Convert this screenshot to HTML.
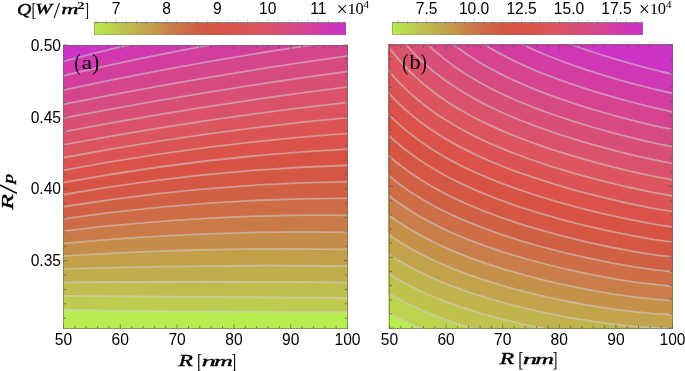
<!DOCTYPE html>
<html><head><meta charset="utf-8"><style>
html,body{margin:0;padding:0;background:#fff;width:685px;height:371px;overflow:hidden}
svg{position:absolute;left:0;top:0;display:block;will-change:transform}
</style></head><body>
<svg width="685" height="371" viewBox="0 0 685 371">
<defs><linearGradient id="cm" x1="0" y1="0" x2="1" y2="0"><stop offset="0" stop-color="#b7ed4e"/><stop offset="0.1" stop-color="#bec84e"/><stop offset="0.2" stop-color="#c1a84b"/><stop offset="0.25" stop-color="#c4964a"/><stop offset="0.3" stop-color="#c88048"/><stop offset="0.35" stop-color="#cc7046"/><stop offset="0.4" stop-color="#d06144"/><stop offset="0.45" stop-color="#d55643"/><stop offset="0.5" stop-color="#d85244"/><stop offset="0.55" stop-color="#db524a"/><stop offset="0.6" stop-color="#dc5354"/><stop offset="0.65" stop-color="#dc545f"/><stop offset="0.7" stop-color="#da506e"/><stop offset="0.75" stop-color="#d84d7a"/><stop offset="0.8" stop-color="#d64886"/><stop offset="0.85" stop-color="#d44196"/><stop offset="0.9" stop-color="#d23aaa"/><stop offset="0.95" stop-color="#ce34bc"/><stop offset="1" stop-color="#cc33c6"/></linearGradient></defs>
<clipPath id="clipa"><rect x="63" y="45" width="285" height="284"/></clipPath>
<g clip-path="url(#clipa)">
<rect x="63" y="45" width="285" height="284" fill="#b7ed4e"/>
<path fill="#bdcc4e" d="M62 309.8Q205.5 312 349 312.2L349 40L62 40Z"/>
<path fill="#bfbd4d" d="M62 295.9Q205.5 297.5 349 297.9L349 40L62 40Z"/>
<path fill="#c0ae4c" d="M62 282.3Q205.5 281.2 349 282.4L349 40L62 40Z"/>
<path fill="#c39f4a" d="M62 269Q205.5 264.1 349 266.1L349 40L62 40Z"/>
<path fill="#c68c49" d="M62 256.1Q205.5 246.8 349 249.4L349 40L62 40Z"/>
<path fill="#c97a47" d="M62 243.5Q205.5 229.8 349 232.3L349 40L62 40Z"/>
<path fill="#cd6c45" d="M62 231.2Q205.5 213.5 349 215.3L349 40L62 40Z"/>
<path fill="#d15f44" d="M62 219Q205.5 198 349 198.4L349 40L62 40Z"/>
<path fill="#d55643" d="M62 206.9Q205.5 183.4 349 181.6L349 40L62 40Z"/>
<path fill="#d85244" d="M62 194.9Q205.5 169.5 349 165.2L349 40L62 40Z"/>
<path fill="#db524a" d="M62 182.8Q205.5 156.2 349 149.1L349 40L62 40Z"/>
<path fill="#dc5353" d="M62 170.5Q205.5 143.4 349 133.3L349 40L62 40Z"/>
<path fill="#dc545d" d="M62 157.9Q205.5 130.7 349 117.6L349 40L62 40Z"/>
<path fill="#db5169" d="M62 145.1Q205.5 117.9 349 102.2L349 40L62 40Z"/>
<path fill="#d94e75" d="M62 132Q205.5 104.6 349 86.8L349 40L62 40Z"/>
<path fill="#d74a80" d="M62 118.4Q205.5 90.6 349 71.3L349 40L62 40Z"/>
<path fill="#d5458d" d="M62 104.6Q205.5 75.6 349 55.7L349 40L62 40Z"/>
<path fill="#d33e9d" d="M62 90.4Q205.5 59.5 349 39.7L349 40L62 40Z"/>
<path fill="#d138af" d="M62 76Q205.5 42 349 23.3L349 40L62 40Z"/>
<path fill="#cc33c6" d="M62 61.6Q205.5 23.2 349 6.4L349 40L62 40Z"/>
<path fill="none" stroke="#d0d0d0" stroke-opacity="0.56" stroke-width="1.8" d="M62 61.6Q205.5 23.2 349 6.4M62 76Q205.5 42 349 23.3M62 90.4Q205.5 59.5 349 39.7M62 104.6Q205.5 75.6 349 55.7M62 118.4Q205.5 90.6 349 71.3M62 132Q205.5 104.6 349 86.8M62 145.1Q205.5 117.9 349 102.2M62 157.9Q205.5 130.7 349 117.6M62 170.5Q205.5 143.4 349 133.3M62 182.8Q205.5 156.2 349 149.1M62 194.9Q205.5 169.5 349 165.2M62 206.9Q205.5 183.4 349 181.6M62 219Q205.5 198 349 198.4M62 231.2Q205.5 213.5 349 215.3M62 243.5Q205.5 229.8 349 232.3M62 256.1Q205.5 246.8 349 249.4M62 269Q205.5 264.1 349 266.1M62 282.3Q205.5 281.2 349 282.4M62 295.9Q205.5 297.5 349 297.9M62 309.8Q205.5 312 349 312.2"/>
</g>
<clipPath id="clipb"><rect x="388.4" y="44.4" width="284.6" height="284.6"/></clipPath>
<g clip-path="url(#clipb)">
<rect x="385.4" y="41.4" width="290.6" height="290.6" fill="#b7ed4e"/>
<path fill="#bcd34e" d="M429.4 331.9 L417.4 327.1 L406.4 322.2 L395.6 316.9 L385.4 311.3 L385.4 41.4 L676 41.4 L676 332Z"/>
<path fill="#bfc24d" d="M485.6 331.9 L470.9 327.8 L456.4 323.3 L442.9 318.6 L430.4 313.8 L418.4 308.7 L406.9 303.3 L395.9 297.5 L385.4 291.5 L385.4 41.4 L676 41.4 L676 332Z"/>
<path fill="#c0b34c" d="M562 331.9 L548.2 329.4 L534.4 326.7 L520.9 323.7 L507.9 320.6 L495.4 317.4 L483.4 314.1 L471.9 310.6 L460.4 306.9 L449.9 303.1 L439.4 299.1 L429.4 295 L419.9 290.7 L410.9 286.3 L401.9 281.6 L393.4 276.7 L385.4 271.7 L385.4 41.4 L676 41.4 L676 332Z"/>
<path fill="#c2a34b" d="M675.9 328.8 L656.9 328.1 L636.9 326.6 L616.4 324.5 L594.9 321.6 L572.9 318.1 L550.9 313.9 L529.4 309.2 L508.4 304 L489.4 298.7 L471.9 293.2 L454.9 287.2 L439.4 281 L424.9 274.5 L410.9 267.5 L397.9 260.1 L385.4 252.1 L385.4 41.4 L676 41.4Z"/>
<path fill="#c5914a" d="M675.9 314.9 L656.4 313.8 L635.9 311.9 L614.9 309.3 L593.4 306.1 L570.9 302 L548.9 297.4 L527.4 292.3 L506.4 286.7 L487.9 281.1 L470.4 275.3 L453.9 269.1 L438.4 262.5 L423.9 255.6 L410.4 248.4 L397.4 240.5 L385.4 232.4 L385.4 41.4 L676 41.4Z"/>
<path fill="#c97d48" d="M675.9 300.8 L655.9 299.3 L635.4 297.1 L613.9 294.1 L591.9 290.3 L569.4 285.9 L546.9 280.8 L524.9 275.2 L504.4 269.3 L486 263.4 L468.9 257.3 L452.4 250.7 L437.4 244 L423.4 236.9 L409.9 229.3 L397.4 221.3 L385.4 212.8 L385.4 41.4 L676 41.4Z"/>
<path fill="#cd6e46" d="M675.9 286.6 L655.9 284.7 L634.9 282.1 L612.9 278.6 L590.4 274.4 L567.4 269.5 L544.9 264 L522.9 258 L502.4 251.8 L484.4 245.7 L467.4 239.3 L451.4 232.5 L436.4 225.4 L422.4 217.9 L409.4 210.1 L396.9 201.7 L385.4 193 L385.4 41.4 L676 41.4Z"/>
<path fill="#d06044" d="M675.9 272.1 L655.4 269.9 L633.9 266.8 L611.4 262.9 L588.4 258.2 L565.2 252.9 L542.4 247 L520.9 240.8 L500.4 234.2 L482.4 227.7 L465.9 221.1 L449.9 214 L435.4 206.7 L421.9 199.1 L408.9 190.9 L396.9 182.3 L385.4 173.1 L385.4 41.4 L676 41.4Z"/>
<path fill="#d55643" d="M675.9 257.5 L654.9 254.8 L632.9 251.4 L609.9 247 L586.4 241.9 L562.9 236.1 L540.1 229.9 L518.4 223.3 L498.4 216.5 L480.9 209.9 L464.4 202.9 L448.9 195.6 L434.4 187.9 L420.9 179.8 L408.4 171.4 L396.4 162.3 L385.4 152.9 L385.4 41.4 L676 41.4Z"/>
<path fill="#d85244" d="M675.9 242.6 L654.4 239.6 L631.9 235.7 L608.4 230.9 L584.4 225.4 L560.9 219.3 L537.9 212.7 L516.4 205.8 L496.4 198.6 L478.9 191.6 L462.8 184.4 L447.4 176.7 L433.4 168.8 L420.4 160.6 L407.9 151.7 L396.4 142.4 L385.4 132.4 L385.4 41.4 L676 41.4Z"/>
<path fill="#db524a" d="M675.9 227.5 L653.9 224.1 L630.4 219.7 L605.9 214.4 L581.4 208.4 L557.4 201.8 L534.9 195 L513.9 187.9 L494 180.4 L476.9 173.2 L460.9 165.6 L446.4 157.9 L432.4 149.5 L419.4 140.7 L407.4 131.6 L395.9 121.6 L385.4 111.3 L385.4 41.4 L676 41.4Z"/>
<path fill="#dc5353" d="M675.9 212.1 L652.9 208.3 L628.9 203.5 L603.9 197.7 L578.9 191.3 L554.9 184.4 L532.4 177.2 L511.4 169.8 L491.9 162 L474.9 154.4 L459.4 146.6 L444.8 138.4 L430.9 129.5 L418.4 120.4 L412.4 115.6 L406.4 110.5 L400.9 105.5 L395.4 100.2 L385.4 89.5 L385.4 41.4 L676 41.4Z"/>
<path fill="#dc545d" d="M675.9 196.5 L652.4 192.3 L627.4 187 L601.4 180.7 L575.9 173.8 L551.9 166.6 L529.4 159 L508.9 151.4 L489.9 143.4 L473.4 135.6 L457.9 127.3 L443.4 118.5 L436.4 113.9 L429.9 109.3 L423.5 104.4 L417.4 99.5 L411.5 94.4 L405.9 89.2 L400.4 83.8 L395.3 78.4 L390.4 72.8 L385.4 66.7 L385.4 41.4 L676 41.4Z"/>
<path fill="#da516b" d="M675.9 180.5 L651.4 175.9 L625.4 170.1 L598.9 163.4 L572.6 155.9 L548.4 148.3 L526.4 140.5 L505.9 132.4 L487.4 124.1 L470.9 115.8 L462.9 111.3 L455.4 106.9 L448.4 102.4 L441.4 97.7 L434.9 93 L428.4 88 L422.2 82.9 L416.1 77.4 L410.4 72 L404.9 66.4 L399.9 60.9 L394.8 54.9 L389.9 48.7 L385.4 42.5 L385.4 41.4 L676 41.4Z"/>
<path fill="#d84e77" d="M675.9 164.2 L653.4 159.7 L629.4 154.3 L605.4 148.1 L581.4 141.3 L559.2 134.4 L538.4 127.2 L519.4 120 L501.9 112.5 L485.9 104.9 L471.4 97.1 L457.9 89 L445.4 80.5 L433.9 71.7 L422.9 62.1 L417.5 56.9 L412.6 51.9 L403.3 41.4 L676 41.4Z"/>
<path fill="#d74983" d="M675.9 147.5 L655.4 143.3 L634.4 138.4 L612.9 132.9 L591.9 127 L571.9 120.8 L552.9 114.5 L535.4 108.1 L518.9 101.5 L504.1 94.9 L490.4 88.2 L477.4 81.1 L465.5 73.9 L454.3 66.4 L443.7 58.4 L433.9 50.1 L424.7 41.4 L676 41.4Z"/>
<path fill="#d54391" d="M675.9 130.3 L658.4 126.6 L640.4 122.4 L621.9 117.6 L603.4 112.5 L585.9 107.3 L569.2 101.9 L553.4 96.4 L538.4 90.8 L524.9 85.2 L512.4 79.7 L500.4 73.9 L488.9 67.8 L477.9 61.4 L467.9 55 L458.4 48.3 L449.6 41.4 L676 41.4Z"/>
<path fill="#d33da2" d="M675.9 112.6 L661.4 109.4 L646.4 105.9 L631.4 102 L616.2 97.9 L601.4 93.6 L586.9 89.2 L573.4 84.7 L560.4 80.2 L548.4 75.7 L536.9 71.1 L526 66.4 L515.9 61.7 L506.2 56.9 L496.8 51.9 L487.9 46.7 L479.4 41.4 L676 41.4Z"/>
<path fill="#d037b4" d="M675.9 94.2 L653.4 89 L630.4 83.1 L607.9 76.6 L586.4 69.9 L566.4 62.9 L548.4 56 L531.8 48.9 L516.2 41.4 L676 41.4Z"/>
<path fill="#cc33c6" d="M675.9 74.9 L660.9 71.5 L645.9 67.7 L630.9 63.6 L616.2 59.4 L601.9 55 L588.4 50.6 L575.4 46 L563.2 41.4 L676 41.4Z"/>
<path fill="none" stroke="#d0d0d0" stroke-opacity="0.56" stroke-width="1.8" stroke-linejoin="round" stroke-linecap="round" d="M429.4 331.9 L417.4 327.1 L406.4 322.2 L395.6 316.9 L385.4 311.3M485.6 331.9 L470.9 327.8 L456.4 323.3 L442.9 318.6 L430.4 313.8 L418.4 308.7 L406.9 303.3 L395.9 297.5 L385.4 291.5M562 331.9 L548.2 329.4 L534.4 326.7 L520.9 323.7 L507.9 320.6 L495.4 317.4 L483.4 314.1 L471.9 310.6 L460.4 306.9 L449.9 303.1 L439.4 299.1 L429.4 295 L419.9 290.7 L410.9 286.3 L401.9 281.6 L393.4 276.7 L385.4 271.7M675.9 328.8 L656.9 328.1 L636.9 326.6 L616.4 324.5 L594.9 321.6 L572.9 318.1 L550.9 313.9 L529.4 309.2 L508.4 304 L489.4 298.7 L471.9 293.2 L454.9 287.2 L439.4 281 L424.9 274.5 L410.9 267.5 L397.9 260.1 L385.4 252.1M675.9 314.9 L656.4 313.8 L635.9 311.9 L614.9 309.3 L593.4 306.1 L570.9 302 L548.9 297.4 L527.4 292.3 L506.4 286.7 L487.9 281.1 L470.4 275.3 L453.9 269.1 L438.4 262.5 L423.9 255.6 L410.4 248.4 L397.4 240.5 L385.4 232.4M675.9 300.8 L655.9 299.3 L635.4 297.1 L613.9 294.1 L591.9 290.3 L569.4 285.9 L546.9 280.8 L524.9 275.2 L504.4 269.3 L486 263.4 L468.9 257.3 L452.4 250.7 L437.4 244 L423.4 236.9 L409.9 229.3 L397.4 221.3 L385.4 212.8M675.9 286.6 L655.9 284.7 L634.9 282.1 L612.9 278.6 L590.4 274.4 L567.4 269.5 L544.9 264 L522.9 258 L502.4 251.8 L484.4 245.7 L467.4 239.3 L451.4 232.5 L436.4 225.4 L422.4 217.9 L409.4 210.1 L396.9 201.7 L385.4 193M675.9 272.1 L655.4 269.9 L633.9 266.8 L611.4 262.9 L588.4 258.2 L565.2 252.9 L542.4 247 L520.9 240.8 L500.4 234.2 L482.4 227.7 L465.9 221.1 L449.9 214 L435.4 206.7 L421.9 199.1 L408.9 190.9 L396.9 182.3 L385.4 173.1M675.9 257.5 L654.9 254.8 L632.9 251.4 L609.9 247 L586.4 241.9 L562.9 236.1 L540.1 229.9 L518.4 223.3 L498.4 216.5 L480.9 209.9 L464.4 202.9 L448.9 195.6 L434.4 187.9 L420.9 179.8 L408.4 171.4 L396.4 162.3 L385.4 152.9M675.9 242.6 L654.4 239.6 L631.9 235.7 L608.4 230.9 L584.4 225.4 L560.9 219.3 L537.9 212.7 L516.4 205.8 L496.4 198.6 L478.9 191.6 L462.8 184.4 L447.4 176.7 L433.4 168.8 L420.4 160.6 L407.9 151.7 L396.4 142.4 L385.4 132.4M675.9 227.5 L653.9 224.1 L630.4 219.7 L605.9 214.4 L581.4 208.4 L557.4 201.8 L534.9 195 L513.9 187.9 L494 180.4 L476.9 173.2 L460.9 165.6 L446.4 157.9 L432.4 149.5 L419.4 140.7 L407.4 131.6 L395.9 121.6 L385.4 111.3M675.9 212.1 L652.9 208.3 L628.9 203.5 L603.9 197.7 L578.9 191.3 L554.9 184.4 L532.4 177.2 L511.4 169.8 L491.9 162 L474.9 154.4 L459.4 146.6 L444.8 138.4 L430.9 129.5 L418.4 120.4 L412.4 115.6 L406.4 110.5 L400.9 105.5 L395.4 100.2 L385.4 89.5M675.9 196.5 L652.4 192.3 L627.4 187 L601.4 180.7 L575.9 173.8 L551.9 166.6 L529.4 159 L508.9 151.4 L489.9 143.4 L473.4 135.6 L457.9 127.3 L443.4 118.5 L436.4 113.9 L429.9 109.3 L423.5 104.4 L417.4 99.5 L411.5 94.4 L405.9 89.2 L400.4 83.8 L395.3 78.4 L390.4 72.8 L385.4 66.7M675.9 180.5 L651.4 175.9 L625.4 170.1 L598.9 163.4 L572.6 155.9 L548.4 148.3 L526.4 140.5 L505.9 132.4 L487.4 124.1 L470.9 115.8 L462.9 111.3 L455.4 106.9 L448.4 102.4 L441.4 97.7 L434.9 93 L428.4 88 L422.2 82.9 L416.1 77.4 L410.4 72 L404.9 66.4 L399.9 60.9 L394.8 54.9 L389.9 48.7 L385.4 42.5M675.9 164.2 L653.4 159.7 L629.4 154.3 L605.4 148.1 L581.4 141.3 L559.2 134.4 L538.4 127.2 L519.4 120 L501.9 112.5 L485.9 104.9 L471.4 97.1 L457.9 89 L445.4 80.5 L433.9 71.7 L422.9 62.1 L417.5 56.9 L412.6 51.9 L403.3 41.4M675.9 147.5 L655.4 143.3 L634.4 138.4 L612.9 132.9 L591.9 127 L571.9 120.8 L552.9 114.5 L535.4 108.1 L518.9 101.5 L504.1 94.9 L490.4 88.2 L477.4 81.1 L465.5 73.9 L454.3 66.4 L443.7 58.4 L433.9 50.1 L424.7 41.4M675.9 130.3 L658.4 126.6 L640.4 122.4 L621.9 117.6 L603.4 112.5 L585.9 107.3 L569.2 101.9 L553.4 96.4 L538.4 90.8 L524.9 85.2 L512.4 79.7 L500.4 73.9 L488.9 67.8 L477.9 61.4 L467.9 55 L458.4 48.3 L449.6 41.4M675.9 112.6 L661.4 109.4 L646.4 105.9 L631.4 102 L616.2 97.9 L601.4 93.6 L586.9 89.2 L573.4 84.7 L560.4 80.2 L548.4 75.7 L536.9 71.1 L526 66.4 L515.9 61.7 L506.2 56.9 L496.8 51.9 L487.9 46.7 L479.4 41.4M675.9 94.2 L653.4 89 L630.4 83.1 L607.9 76.6 L586.4 69.9 L566.4 62.9 L548.4 56 L531.8 48.9 L516.2 41.4M675.9 74.9 L660.9 71.5 L645.9 67.7 L630.9 63.6 L616.2 59.4 L601.9 55 L588.4 50.6 L575.4 46 L563.2 41.4"/>
</g>
<path fill="none" stroke="#555" stroke-opacity="0.75" stroke-width="1" d="M63.5 328.5v-4M63.5 45.5v4M120.3 328.5v-4M120.3 45.5v4M177.1 328.5v-4M177.1 45.5v4M233.9 328.5v-4M233.9 45.5v4M290.7 328.5v-4M290.7 45.5v4M347.5 328.5v-4M347.5 45.5v4M74.9 328.5v-2.5M74.9 45.5v2.5M86.2 328.5v-2.5M86.2 45.5v2.5M97.6 328.5v-2.5M97.6 45.5v2.5M108.9 328.5v-2.5M108.9 45.5v2.5M131.7 328.5v-2.5M131.7 45.5v2.5M143 328.5v-2.5M143 45.5v2.5M154.4 328.5v-2.5M154.4 45.5v2.5M165.7 328.5v-2.5M165.7 45.5v2.5M188.5 328.5v-2.5M188.5 45.5v2.5M199.8 328.5v-2.5M199.8 45.5v2.5M211.2 328.5v-2.5M211.2 45.5v2.5M222.5 328.5v-2.5M222.5 45.5v2.5M245.3 328.5v-2.5M245.3 45.5v2.5M256.6 328.5v-2.5M256.6 45.5v2.5M268 328.5v-2.5M268 45.5v2.5M279.3 328.5v-2.5M279.3 45.5v2.5M302.1 328.5v-2.5M302.1 45.5v2.5M313.4 328.5v-2.5M313.4 45.5v2.5M324.8 328.5v-2.5M324.8 45.5v2.5M336.1 328.5v-2.5M336.1 45.5v2.5M63.5 260.7h4M347.5 260.7h-4M63.5 188.8h4M347.5 188.8h-4M63.5 116.9h4M347.5 116.9h-4M63.5 45h4M347.5 45h-4M63.5 318.2h2.5M347.5 318.2h-2.5M63.5 303.8h2.5M347.5 303.8h-2.5M63.5 289.5h2.5M347.5 289.5h-2.5M63.5 275.1h2.5M347.5 275.1h-2.5M63.5 246.3h2.5M347.5 246.3h-2.5M63.5 231.9h2.5M347.5 231.9h-2.5M63.5 217.6h2.5M347.5 217.6h-2.5M63.5 203.2h2.5M347.5 203.2h-2.5M63.5 174.4h2.5M347.5 174.4h-2.5M63.5 160h2.5M347.5 160h-2.5M63.5 145.7h2.5M347.5 145.7h-2.5M63.5 131.3h2.5M347.5 131.3h-2.5M63.5 102.5h2.5M347.5 102.5h-2.5M63.5 88.1h2.5M347.5 88.1h-2.5M63.5 73.8h2.5M347.5 73.8h-2.5M63.5 59.4h2.5M347.5 59.4h-2.5"/><rect x="63.5" y="45.5" width="284" height="283" fill="none" stroke="#666" stroke-opacity="0.6" stroke-width="1"/>
<path fill="none" stroke="#555" stroke-opacity="0.75" stroke-width="1" d="M389.5 328.5v-4M389.5 45.5v4M446.1 328.5v-4M446.1 45.5v4M502.7 328.5v-4M502.7 45.5v4M559.3 328.5v-4M559.3 45.5v4M615.9 328.5v-4M615.9 45.5v4M672.5 328.5v-4M672.5 45.5v4M400.8 328.5v-2.5M400.8 45.5v2.5M412.1 328.5v-2.5M412.1 45.5v2.5M423.5 328.5v-2.5M423.5 45.5v2.5M434.8 328.5v-2.5M434.8 45.5v2.5M457.4 328.5v-2.5M457.4 45.5v2.5M468.7 328.5v-2.5M468.7 45.5v2.5M480.1 328.5v-2.5M480.1 45.5v2.5M491.4 328.5v-2.5M491.4 45.5v2.5M514 328.5v-2.5M514 45.5v2.5M525.3 328.5v-2.5M525.3 45.5v2.5M536.7 328.5v-2.5M536.7 45.5v2.5M548 328.5v-2.5M548 45.5v2.5M570.6 328.5v-2.5M570.6 45.5v2.5M581.9 328.5v-2.5M581.9 45.5v2.5M593.3 328.5v-2.5M593.3 45.5v2.5M604.6 328.5v-2.5M604.6 45.5v2.5M627.2 328.5v-2.5M627.2 45.5v2.5M638.5 328.5v-2.5M638.5 45.5v2.5M649.9 328.5v-2.5M649.9 45.5v2.5M661.2 328.5v-2.5M661.2 45.5v2.5M389.5 328.1h4M672.5 328.1h-4M389.5 257.3h4M672.5 257.3h-4M389.5 186.5h4M672.5 186.5h-4M389.5 115.7h4M672.5 115.7h-4M389.5 44.9h4M672.5 44.9h-4M389.5 313.9h2.5M672.5 313.9h-2.5M389.5 299.8h2.5M672.5 299.8h-2.5M389.5 285.6h2.5M672.5 285.6h-2.5M389.5 271.5h2.5M672.5 271.5h-2.5M389.5 243.1h2.5M672.5 243.1h-2.5M389.5 229h2.5M672.5 229h-2.5M389.5 214.8h2.5M672.5 214.8h-2.5M389.5 200.7h2.5M672.5 200.7h-2.5M389.5 172.3h2.5M672.5 172.3h-2.5M389.5 158.2h2.5M672.5 158.2h-2.5M389.5 144h2.5M672.5 144h-2.5M389.5 129.9h2.5M672.5 129.9h-2.5M389.5 101.5h2.5M672.5 101.5h-2.5M389.5 87.4h2.5M672.5 87.4h-2.5M389.5 73.2h2.5M672.5 73.2h-2.5M389.5 59.1h2.5M672.5 59.1h-2.5"/><rect x="389.5" y="45.5" width="283" height="283" fill="none" stroke="#666" stroke-opacity="0.6" stroke-width="1"/>
<rect x="94" y="22" width="252" height="13" fill="url(#cm)"/>
<path fill="none" stroke="#777" stroke-opacity="0.45" stroke-width="1" d="M94.5 35V22.5H345.5V35"/>
<path fill="none" stroke="#888" stroke-width="1" d="M94 22.5H346"/>
<path fill="none" stroke="#777" stroke-opacity="0.35" stroke-width="1" d="M94 34.5H346"/>
<rect x="392" y="22" width="251" height="13" fill="url(#cm)"/>
<path fill="none" stroke="#777" stroke-opacity="0.45" stroke-width="1" d="M392.5 35V22.5H642.5V35"/>
<path fill="none" stroke="#888" stroke-width="1" d="M392 22.5H643"/>
<path fill="none" stroke="#777" stroke-opacity="0.35" stroke-width="1" d="M392 34.5H643"/>
<path fill="none" stroke="#c8c8c8" stroke-width="0.8" d="M96 22v-2.2M106.1 22v-2.2M116.2 22v-3.5M126.3 22v-2.2M136.4 22v-2.2M146.5 22v-2.2M156.6 22v-2.2M166.8 22v-3.5M176.9 22v-2.2M187 22v-2.2M197.1 22v-2.2M207.2 22v-2.2M217.3 22v-3.5M227.4 22v-2.2M237.5 22v-2.2M247.6 22v-2.2M257.7 22v-2.2M267.8 22v-3.5M278 22v-2.2M288.1 22v-2.2M298.2 22v-2.2M308.3 22v-2.2M318.4 22v-3.5M328.5 22v-2.2M338.6 22v-2.2M398.2 22v-2.2M407.7 22v-2.2M417.2 22v-2.2M426.7 22v-3.5M436.2 22v-2.2M445.7 22v-2.2M455.2 22v-2.2M464.6 22v-2.2M474.1 22v-3.5M483.6 22v-2.2M493.1 22v-2.2M502.6 22v-2.2M512.1 22v-2.2M521.5 22v-3.5M531 22v-2.2M540.5 22v-2.2M550 22v-2.2M559.5 22v-2.2M569 22v-3.5M578.5 22v-2.2M587.9 22v-2.2M597.4 22v-2.2M606.9 22v-2.2M616.4 22v-3.5M625.9 22v-2.2M635.4 22v-2.2"/>
<path fill="none" stroke="#555" stroke-opacity="0.5" stroke-width="0.8" d="M96 23v1M106.1 23v1M116.2 23v1M126.3 23v1M136.4 23v1M146.5 23v1M156.6 23v1M166.8 23v1M176.9 23v1M187 23v1M197.1 23v1M207.2 23v1M217.3 23v1M227.4 23v1M237.5 23v1M247.6 23v1M257.7 23v1M267.8 23v1M278 23v1M288.1 23v1M298.2 23v1M308.3 23v1M318.4 23v1M328.5 23v1M338.6 23v1M398.2 23v1M407.7 23v1M417.2 23v1M426.7 23v1M436.2 23v1M445.7 23v1M455.2 23v1M464.6 23v1M474.1 23v1M483.6 23v1M493.1 23v1M502.6 23v1M512.1 23v1M521.5 23v1M531 23v1M540.5 23v1M550 23v1M559.5 23v1M569 23v1M578.5 23v1M587.9 23v1M597.4 23v1M606.9 23v1M616.4 23v1M625.9 23v1M635.4 23v1"/>
<g font-family="Liberation Sans" font-size="15.6" fill="#000">
<text x="116.2" y="13.5" text-anchor="middle">7</text>
<text x="166.7" y="13.5" text-anchor="middle">8</text>
<text x="217.3" y="13.5" text-anchor="middle">9</text>
<text x="267.8" y="13.5" text-anchor="middle">10</text>
<text x="318.4" y="13.5" text-anchor="middle">11</text>
<text x="426.7" y="13.5" text-anchor="middle">7.5</text>
<text x="474.1" y="13.5" text-anchor="middle">10.0</text>
<text x="521.6" y="13.5" text-anchor="middle">12.5</text>
<text x="569.0" y="13.5" text-anchor="middle">15.0</text>
<text x="616.4" y="13.5" text-anchor="middle">17.5</text>
<text x="61" y="50.6" text-anchor="end">0.50</text>
<text x="61" y="122.5" text-anchor="end">0.45</text>
<text x="61" y="194.4" text-anchor="end">0.40</text>
<text x="61" y="266.3" text-anchor="end">0.35</text>
<text x="63.5" y="345.2" text-anchor="middle">50</text>
<text x="120.3" y="345.2" text-anchor="middle">60</text>
<text x="177.1" y="345.2" text-anchor="middle">70</text>
<text x="233.9" y="345.2" text-anchor="middle">80</text>
<text x="290.7" y="345.2" text-anchor="middle">90</text>
<text x="347.5" y="345.2" text-anchor="middle">100</text>
<text x="389.5" y="345.2" text-anchor="middle">50</text>
<text x="446.1" y="345.2" text-anchor="middle">60</text>
<text x="502.7" y="345.2" text-anchor="middle">70</text>
<text x="559.3" y="345.2" text-anchor="middle">80</text>
<text x="615.9" y="345.2" text-anchor="middle">90</text>
<text x="672.5" y="345.2" text-anchor="middle">100</text>
</g>
<g font-family="Liberation Serif" fill="#000">
<text transform="translate(17.06 14.92) scale(1.239 1.031)" font-size="16" font-style="italic" stroke="#000" stroke-width="0.396512">Q</text>
<text transform="translate(31.49 16.38) scale(0.886 1.208)" font-size="16">[</text>
<text transform="translate(35.34 13.77) scale(1.259 0.940)" font-size="16" font-style="italic" stroke="#000" stroke-width="0.409315">W</text>
<text transform="translate(53.60 18.43) scale(1.467 1.460)" font-size="16">/</text>
<text transform="translate(61.25 14.00) scale(1.493 0.880)" font-size="16" font-style="italic" stroke="#000" stroke-width="0.379317">m</text>
<text transform="translate(76.98 8.75) scale(0.954 0.667)" font-size="16" font-weight="bold">2</text>
<text transform="translate(84.80 16.38) scale(0.800 1.208)" font-size="16">]</text>
<text transform="translate(336.44 16.41) scale(1.246 1.248)" font-size="16">×</text>
<text transform="translate(347.42 13.60) scale(1.055 0.952)" font-size="16">1</text>
<text transform="translate(355.39 14.14) scale(1.029 1.056)" font-size="16">0</text>
<text transform="translate(363.53 7.80) scale(0.693 0.667)" font-size="16">4</text>
<text transform="translate(638.84 16.41) scale(1.246 1.248)" font-size="16">×</text>
<text transform="translate(649.82 13.60) scale(1.055 0.952)" font-size="16">1</text>
<text transform="translate(657.79 14.14) scale(1.029 1.056)" font-size="16">0</text>
<text transform="translate(665.93 7.80) scale(0.693 0.667)" font-size="16">4</text>
<text transform="translate(178.60 365.70) scale(1.474 1.000)" font-size="16" font-style="italic" stroke="#000" stroke-width="0.36383">R</text>
<text transform="translate(196.99 367.85) scale(0.971 1.277)" font-size="16">[</text>
<text transform="translate(201.59 365.70) scale(1.822 0.960)" font-size="16" font-style="italic" stroke="#000" stroke-width="0.323482">n</text>
<text transform="translate(213.99 365.70) scale(1.629 0.960)" font-size="16" font-style="italic" stroke="#000" stroke-width="0.347589">m</text>
<text transform="translate(231.46 367.85) scale(0.880 1.277)" font-size="16">]</text>
<text transform="translate(499.80 364.20) scale(1.474 1.000)" font-size="16" font-style="italic" stroke="#000" stroke-width="0.36383">R</text>
<text transform="translate(518.19 366.35) scale(0.971 1.277)" font-size="16">[</text>
<text transform="translate(522.79 364.20) scale(1.822 0.960)" font-size="16" font-style="italic" stroke="#000" stroke-width="0.323482">n</text>
<text transform="translate(535.19 364.20) scale(1.629 0.960)" font-size="16" font-style="italic" stroke="#000" stroke-width="0.347589">m</text>
<text transform="translate(552.66 366.35) scale(0.880 1.277)" font-size="16">]</text>
<text transform="translate(74.56 69.55) scale(1.125 1.432)" font-size="16">(</text>
<text transform="translate(81.45 68.61) scale(1.508 1.174)" font-size="16">a</text>
<text transform="translate(92.15 69.55) scale(1.300 1.432)" font-size="16">)</text>
<text transform="translate(402.36 69.55) scale(1.125 1.432)" font-size="16">(</text>
<text transform="translate(409.60 68.88) scale(1.387 1.271)" font-size="16">b</text>
<text transform="translate(420.74 69.55) scale(1.125 1.432)" font-size="16">)</text>
<g transform="translate(0 0) matrix(0 -1 1 0 0 0)">
<text transform="translate(-209.70 12.50) scale(1.621 1.076)" font-size="16" font-style="italic" stroke="#000" stroke-width="0.333674">R</text>
<text transform="translate(-194.30 16.80) scale(2.244 1.600)" font-size="16">/</text>
<text transform="translate(-183.61 12.60) scale(1.188 0.973)" font-size="16" font-style="italic" stroke="#000" stroke-width="0.416481">p</text>
</g>
</g>
</svg></body></html>
